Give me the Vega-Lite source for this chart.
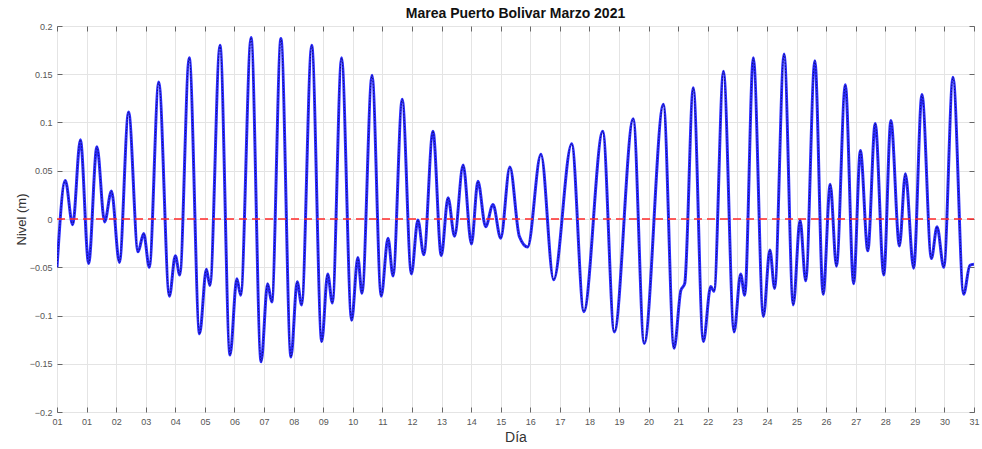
{
  "$schema": "https://vega.github.io/schema/vega-lite/v6.json",
  "autosize": {"type": "none"},
  "width": 917,
  "height": 386,
  "padding": {"left": 57, "top": 26, "right": 8, "bottom": 37},
  "background": "white",
  "config": {
    "view": {"stroke": "#707070", "strokeWidth": 1},
    "font": "Liberation Sans"
  },
  "title": {
    "text": "Marea Puerto Bolivar Marzo 2021",
    "font": "Liberation Sans",
    "fontSize": 14,
    "fontWeight": "bold",
    "color": "#111111",
    "anchor": "middle",
    "offset": 1
  },
  "datasets": {
    "tide": [
      {"t": 0.00, "nivel": -0.050},
      {"t": 0.28, "nivel": 0.040},
      {"t": 0.53, "nivel": -0.006},
      {"t": 0.79, "nivel": 0.082},
      {"t": 1.07, "nivel": -0.046},
      {"t": 1.35, "nivel": 0.075},
      {"t": 1.61, "nivel": -0.003},
      {"t": 1.84, "nivel": 0.029},
      {"t": 2.11, "nivel": -0.045},
      {"t": 2.42, "nivel": 0.111},
      {"t": 2.74, "nivel": -0.034},
      {"t": 2.93, "nivel": -0.015},
      {"t": 3.12, "nivel": -0.050},
      {"t": 3.44, "nivel": 0.142},
      {"t": 3.80, "nivel": -0.080},
      {"t": 4.00, "nivel": -0.038},
      {"t": 4.15, "nivel": -0.058},
      {"t": 4.47, "nivel": 0.167},
      {"t": 4.82, "nivel": -0.119},
      {"t": 5.05, "nivel": -0.052},
      {"t": 5.17, "nivel": -0.069},
      {"t": 5.51, "nivel": 0.180},
      {"t": 5.85, "nivel": -0.141},
      {"t": 6.08, "nivel": -0.062},
      {"t": 6.21, "nivel": -0.079},
      {"t": 6.56, "nivel": 0.188},
      {"t": 6.90, "nivel": -0.148},
      {"t": 7.12, "nivel": -0.067},
      {"t": 7.26, "nivel": -0.086},
      {"t": 7.57, "nivel": 0.187},
      {"t": 7.91, "nivel": -0.143},
      {"t": 8.12, "nivel": -0.065},
      {"t": 8.27, "nivel": -0.089},
      {"t": 8.61, "nivel": 0.180},
      {"t": 8.95, "nivel": -0.127},
      {"t": 9.15, "nivel": -0.057},
      {"t": 9.31, "nivel": -0.087},
      {"t": 9.62, "nivel": 0.167},
      {"t": 9.96, "nivel": -0.105},
      {"t": 10.17, "nivel": -0.040},
      {"t": 10.31, "nivel": -0.077},
      {"t": 10.65, "nivel": 0.149},
      {"t": 10.96, "nivel": -0.080},
      {"t": 11.19, "nivel": -0.020},
      {"t": 11.36, "nivel": -0.059},
      {"t": 11.67, "nivel": 0.124},
      {"t": 11.98, "nivel": -0.057},
      {"t": 12.20, "nivel": -0.001},
      {"t": 12.40, "nivel": -0.037},
      {"t": 12.71, "nivel": 0.091},
      {"t": 12.99, "nivel": -0.038},
      {"t": 13.22, "nivel": 0.022},
      {"t": 13.44, "nivel": -0.018},
      {"t": 13.73, "nivel": 0.056},
      {"t": 14.01, "nivel": -0.026},
      {"t": 14.23, "nivel": 0.039},
      {"t": 14.49, "nivel": -0.008},
      {"t": 14.74, "nivel": 0.015},
      {"t": 15.00, "nivel": -0.020},
      {"t": 15.31, "nivel": 0.054},
      {"t": 15.63, "nivel": -0.018},
      {"t": 15.91, "nivel": -0.029},
      {"t": 16.36, "nivel": 0.067},
      {"t": 16.79, "nivel": -0.063},
      {"t": 17.40, "nivel": 0.078},
      {"t": 17.81, "nivel": -0.096},
      {"t": 18.45, "nivel": 0.091},
      {"t": 18.84, "nivel": -0.117},
      {"t": 19.48, "nivel": 0.104},
      {"t": 19.85, "nivel": -0.129},
      {"t": 20.50, "nivel": 0.119},
      {"t": 20.86, "nivel": -0.134},
      {"t": 21.09, "nivel": -0.074},
      {"t": 21.22, "nivel": -0.067},
      {"t": 21.51, "nivel": 0.136},
      {"t": 21.85, "nivel": -0.127},
      {"t": 22.10, "nivel": -0.070},
      {"t": 22.21, "nivel": -0.075},
      {"t": 22.53, "nivel": 0.153},
      {"t": 22.89, "nivel": -0.117},
      {"t": 23.11, "nivel": -0.057},
      {"t": 23.25, "nivel": -0.079},
      {"t": 23.54, "nivel": 0.167},
      {"t": 23.88, "nivel": -0.101},
      {"t": 24.10, "nivel": -0.032},
      {"t": 24.26, "nivel": -0.072},
      {"t": 24.58, "nivel": 0.171},
      {"t": 24.89, "nivel": -0.089},
      {"t": 25.12, "nivel": -0.001},
      {"t": 25.31, "nivel": -0.064},
      {"t": 25.62, "nivel": 0.164},
      {"t": 25.90, "nivel": -0.078},
      {"t": 26.14, "nivel": 0.036},
      {"t": 26.35, "nivel": -0.049},
      {"t": 26.65, "nivel": 0.139},
      {"t": 26.93, "nivel": -0.067},
      {"t": 27.16, "nivel": 0.071},
      {"t": 27.41, "nivel": -0.033},
      {"t": 27.66, "nivel": 0.099},
      {"t": 27.95, "nivel": -0.058},
      {"t": 28.19, "nivel": 0.102},
      {"t": 28.48, "nivel": -0.028},
      {"t": 28.68, "nivel": 0.047},
      {"t": 28.96, "nivel": -0.051},
      {"t": 29.24, "nivel": 0.129},
      {"t": 29.56, "nivel": -0.041},
      {"t": 29.75, "nivel": -0.008},
      {"t": 29.98, "nivel": -0.050},
      {"t": 30.29, "nivel": 0.147},
      {"t": 30.65, "nivel": -0.078},
      {"t": 30.86, "nivel": -0.048},
      {"t": 31.00, "nivel": -0.047}
    ],
    "zero": [
      {"t": 0, "nivel": 0},
      {"t": 31, "nivel": 0}
    ]
  },
  "layer": [
    {
      "data": {"name": "tide"},
      "mark": {"type": "line", "interpolate": "monotone", "stroke": "#2b2bff", "strokeWidth": 3, "clip": true},
      "encoding": {
        "x": {
          "field": "t", "type": "quantitative",
          "scale": {"domain": [0, 31], "nice": false, "zero": false},
          "axis": {
            "orient": "bottom",
            "values": [0,1,2,3,4,5,6,7,8,9,10,11,12,13,14,15,16,17,18,19,20,21,22,23,24,25,26,27,28,29,30,31],
            "labelExpr": "datum.value == 0 ? '01' : (datum.value < 10 ? '0' + datum.value : '' + datum.value)",
            "labelFlush": false,
            "labelOverlap": false,
            "labelBound": false,
            "labelFontSize": 9,
            "labelColor": "#555555",
            "labelPadding": 10,
            "tickSize": -5,
            "tickColor": "#666666",
            "domain": false,
            "grid": true,
            "gridColor": "#e4e4e4",
            "title": "Día",
            "titleFontSize": 14,
            "titleFontWeight": "normal",
            "titleColor": "#333333",
            "titleX": 458.5,
            "titleY": 25,
            "titleAlign": "center",
            "titleBaseline": "middle"
          }
        },
        "y": {
          "field": "nivel", "type": "quantitative",
          "scale": {"domain": [-0.2, 0.2], "nice": false, "zero": false},
          "axis": {
            "orient": "left",
            "values": [-0.2, -0.15, -0.1, -0.05, 0, 0.05, 0.1, 0.15, 0.2],
            "format": "~g",
            "labelFontSize": 9,
            "labelColor": "#555555",
            "labelPadding": 10,
            "tickSize": -5,
            "tickColor": "#666666",
            "domain": false,
            "grid": true,
            "gridColor": "#e4e4e4",
            "title": "Nivel (m)",
            "titleFontSize": 13,
            "titleFontWeight": "normal",
            "titleColor": "#333333",
            "titleX": -36,
            "titleY": 193,
            "titleAngle": -90,
            "titleAlign": "center",
            "titleBaseline": "middle"
          }
        }
      }
    },
    {
      "data": {"name": "tide"},
      "mark": {"type": "line", "interpolate": "monotone", "stroke": "#10107a", "strokeWidth": 1, "strokeDash": [1.5, 1.5], "clip": true},
      "encoding": {
        "x": {"field": "t", "type": "quantitative", "axis": null},
        "y": {"field": "nivel", "type": "quantitative", "axis": null}
      }
    },
    {
      "data": {"name": "zero"},
      "mark": {"type": "line", "stroke": "#ff2a2a", "strokeWidth": 1.5, "strokeDash": [8, 5]},
      "encoding": {
        "x": {
          "field": "t", "type": "quantitative",
          "axis": {
            "orient": "top",
            "values": [0,1,2,3,4,5,6,7,8,9,10,11,12,13,14,15,16,17,18,19,20,21,22,23,24,25,26,27,28,29,30,31],
            "labels": false, "grid": false, "domain": false,
            "tickSize": -5, "tickColor": "#666666", "title": null
          }
        },
        "y": {
          "field": "nivel", "type": "quantitative",
          "axis": {
            "orient": "right",
            "values": [-0.2, -0.15, -0.1, -0.05, 0, 0.05, 0.1, 0.15, 0.2],
            "labels": false, "grid": false, "domain": false,
            "tickSize": -5, "tickColor": "#666666", "title": null
          }
        }
      }
    }
  ],
  "resolve": {"axis": {"x": "independent", "y": "independent"}}
}
